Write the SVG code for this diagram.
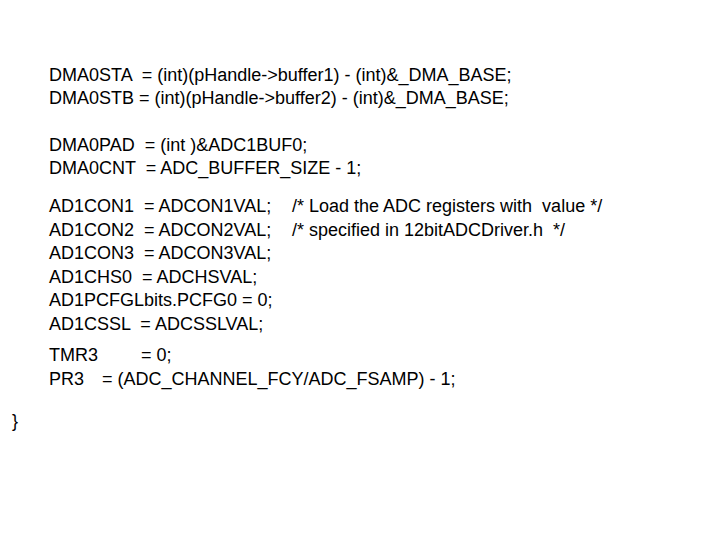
<svg xmlns="http://www.w3.org/2000/svg" width="720" height="540" viewBox="0 0 720 540">
<style>
text{font-family:"Liberation Sans",Arial,sans-serif;font-size:18px;fill:#000;white-space:pre}
</style>
<rect width="720" height="540" fill="#fff"/>
<g id="code">
<text x="49" y="81" xml:space="preserve">DMA0STA  = (int)(pHandle-&gt;buffer1) - (int)&amp;_DMA_BASE;</text>
<text x="49" y="104" xml:space="preserve">DMA0STB = (int)(pHandle-&gt;buffer2) - (int)&amp;_DMA_BASE;</text>
<text x="49" y="151" xml:space="preserve">DMA0PAD  = (int )&amp;ADC1BUF0;</text>
<text x="49" y="174" xml:space="preserve">DMA0CNT  = ADC_BUFFER_SIZE - 1;</text>
<text x="49" y="212" xml:space="preserve">AD1CON1  = ADCON1VAL;</text>
<text x="292" y="212" xml:space="preserve">/* Load the ADC registers with  value */</text>
<text x="49" y="236" xml:space="preserve">AD1CON2  = ADCON2VAL;</text>
<text x="292" y="236" xml:space="preserve">/* specified in 12bitADCDriver.h  */</text>
<text x="49" y="259" xml:space="preserve">AD1CON3  = ADCON3VAL;</text>
<text x="49" y="283" xml:space="preserve">AD1CHS0  = ADCHSVAL;</text>
<text x="49" y="306" xml:space="preserve">AD1PCFGLbits.PCFG0 = 0;</text>
<text x="49" y="330" xml:space="preserve">AD1CSSL  = ADCSSLVAL;</text>
<text x="49" y="361">TMR3</text>
<text x="141" y="361">= 0;</text>
<text x="49" y="385">PR3</text>
<text x="102" y="385">= (ADC_CHANNEL_FCY/ADC_FSAMP) - 1;</text>
<text x="12" y="427">}</text>
</g>
</svg>
